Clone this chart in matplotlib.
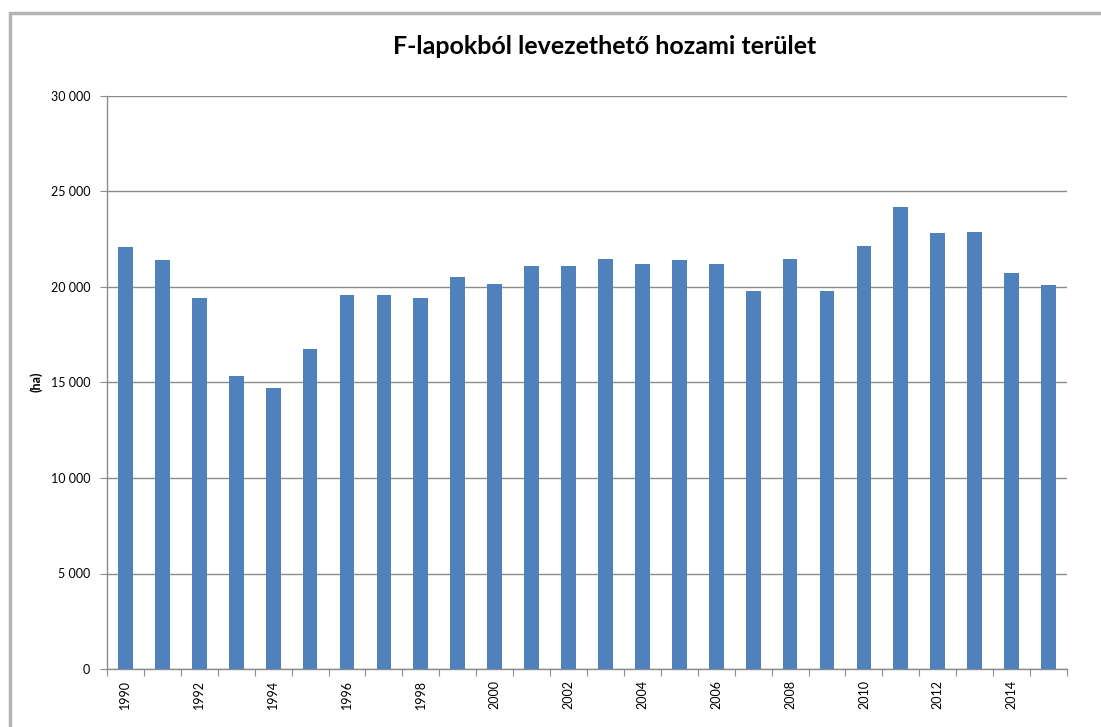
import matplotlib
matplotlib.use("Agg")
import matplotlib.pyplot as plt
from matplotlib.patches import Rectangle
from matplotlib.ticker import FuncFormatter, FixedLocator
import numpy as np

plt.rcParams['font.family'] = ['Lato', 'DejaVu Sans']

# F-lapokból levezethető hozami terület (ha)
years = list(range(1990, 2016))
area_ha = [22100, 21400, 19400, 15350, 14700, 16750, 19600, 19600, 19400, 20500,
           20150, 21100, 21100, 21450, 21200, 21400, 21200, 19800, 21450, 19800,
           22150, 24200, 22850, 22900, 20750, 20100]
label_years = list(range(1990, 2016, 2))

title = "F-lapokból levezethető hozami terület"
ylabel = "(ha)"

grid_col = "#8c8c8c"
bar_col = "#4f81bd"

fig = plt.figure(figsize=(11.01, 7.27), dpi=100)
ax = fig.add_axes([107 / 1101, 1 - 669 / 727, 960 / 1101, 573 / 727])

x = np.arange(len(years))
ax.bar(x, area_ha, width=0.4, color=bar_col, zorder=3)

ax.set_xlim(-0.5, len(years) - 0.5)
ax.set_ylim(0, 30000)
ax.set_yticks(np.arange(0, 30001, 5000))
ax.yaxis.set_major_formatter(FuncFormatter(lambda v, p: f"{int(v):,}".replace(",", " ")))
ax.grid(axis="y", color=grid_col, linewidth=1, zorder=0)

# category axis: tick marks between categories, labels at centres
ax.xaxis.set_major_locator(FixedLocator(np.arange(-0.5, len(years), 1.0)))
ax.xaxis.set_major_formatter(FuncFormatter(lambda v, p: ""))
ax.xaxis.set_minor_locator(FixedLocator([years.index(y) for y in label_years]))
ax.set_xticklabels([str(y) for y in label_years], minor=True, rotation=90, fontsize=9)
ax.tick_params(axis="x", which="major", length=5, color=grid_col, direction="out")
ax.tick_params(axis="x", which="minor", length=0, pad=8)
ax.tick_params(axis="y", length=5, color=grid_col, labelsize=9, pad=7)

for side in ("top", "right"):
    ax.spines[side].set_visible(False)
for side in ("left", "bottom"):
    ax.spines[side].set_color(grid_col)
    ax.spines[side].set_linewidth(1)

fig.text(36 / 1101, 1 - 382 / 727, ylabel, rotation=90, ha="center", va="center",
         fontsize=9, fontweight="bold")
fig.text(605 / 1101, 1 - 47 / 727, title, ha="center", va="center",
         fontsize=18, fontweight="bold")

# outer chart frame
fig.patches.append(Rectangle((10 / 1101, -0.05), 1.1, 1 - 13 / 727 + 0.05,
                             transform=fig.transFigure, fill=False,
                             edgecolor="#b4b4b4", linewidth=2.5))

fig.savefig("out.png", dpi=100)
